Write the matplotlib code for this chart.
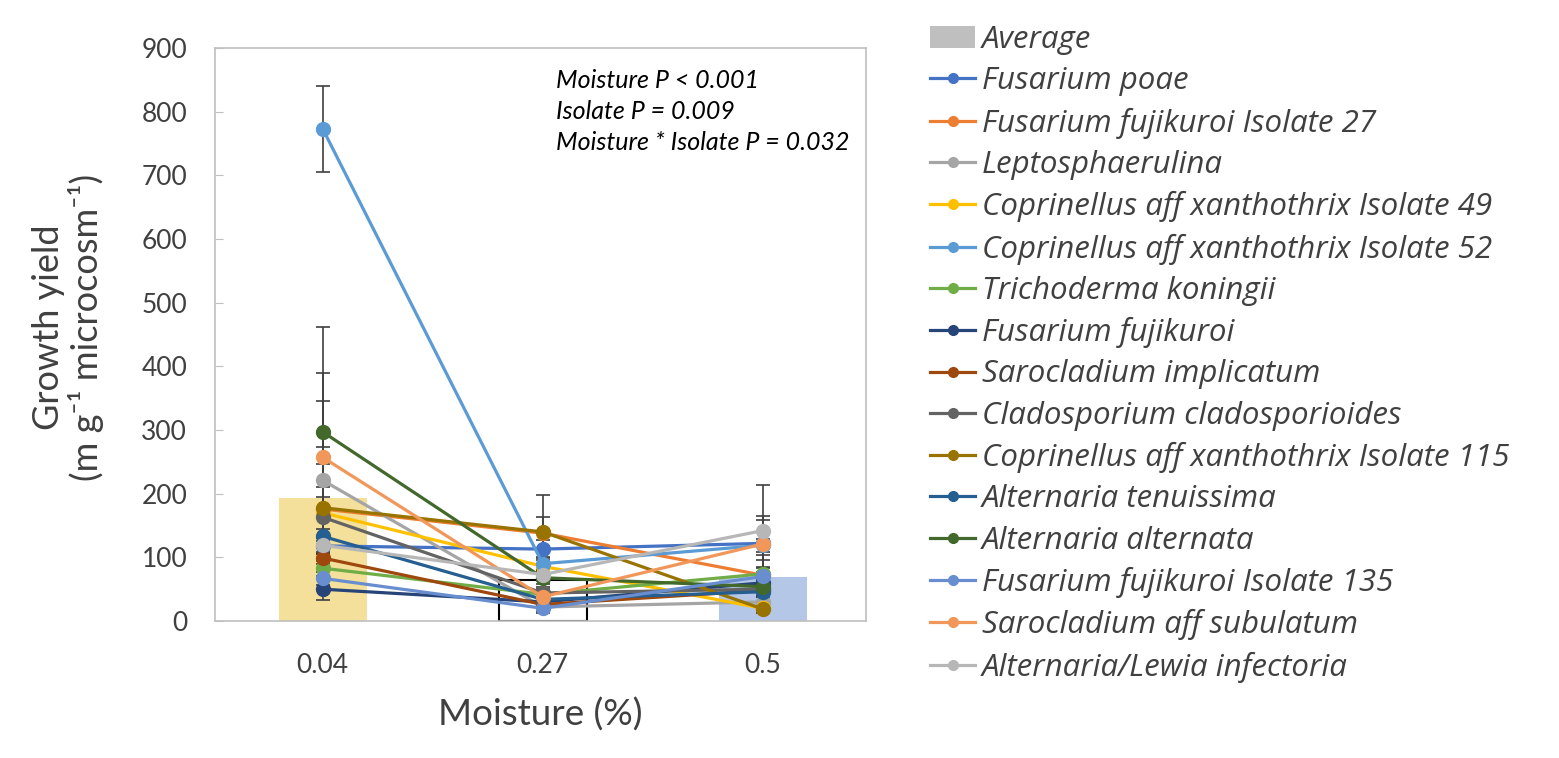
import matplotlib.pyplot as plt
from matplotlib.lines import Line2D
from matplotlib.patches import Patch

plt.rcParams['font.family'] = ['Lato', 'DejaVu Sans']

# categories and series
moisture = ['0.04', '0.27', '0.5']
isolates = ['Fusarium poae', 'Fusarium fujikuroi Isolate 27', 'Leptosphaerulina',
            'Coprinellus aff xanthothrix Isolate 49', 'Coprinellus aff xanthothrix Isolate 52',
            'Trichoderma koningii', 'Fusarium fujikuroi', 'Sarocladium implicatum',
            'Cladosporium cladosporioides', 'Coprinellus aff xanthothrix Isolate 115',
            'Alternaria tenuissima', 'Alternaria alternata', 'Fusarium fujikuroi Isolate 135',
            'Sarocladium aff subulatum', 'Alternaria/Lewia infectoria']
colors = ['#4472C4', '#ED7D31', '#A5A5A5', '#FFC000', '#5B9BD5', '#70AD47', '#264478',
          '#9E480E', '#636363', '#997300', '#255E91', '#43682B', '#698ED0', '#F1975A', '#B7B7B7']

# growth yield per isolate at each moisture level (same order as isolates)
mean_004 = [118, 176, 221, 170, 773, 83, 50, 99, 163, 178, 133, 297, 67, 257, 119]
mean_027 = [113, 138, 22, 86, 90, 42, 30, 26, 44, 140, 34, 68, 20, 38, 73]
mean_05 = [122, 72, 30, 20, 119, 74, 60, 48, 50, 19, 46, 54, 70, 121, 142]
err_004 = [12, 70, 124, 40, 68, 12, 17, 10, 32, 95, 12, 165, 10, 132, 12]
err_027 = [14, 26, 8, 10, 10, 8, 8, 8, 10, 58, 8, 10, 8, 10, 10]
err_05 = [37, 32, 8, 6, 10, 10, 10, 8, 10, 6, 8, 10, 26, 44, 72]

average = [193, 65, 69]
avg_colors = ['#F4E09A', 'white', '#B4C7E7']
avg_edges = ['none', 'black', 'none']

stats = ['Moisture P < 0.001', 'Isolate P = 0.009', 'Moisture * Isolate P = 0.032']

fig = plt.figure(figsize=(15.59, 7.58), dpi=100)
ax = fig.add_axes([0.1379, 0.1807, 0.4176, 0.7559])

x = list(range(len(moisture)))
ax.bar(x, average, width=0.4, color=avg_colors, edgecolor=avg_edges, linewidth=1.5, zorder=1)

for i, name in enumerate(isolates):
    vals = [mean_004[i], mean_027[i], mean_05[i]]
    errs = [err_004[i], err_027[i], err_05[i]]
    ax.errorbar(x, vals, yerr=errs, fmt='none', ecolor='#404040', elinewidth=1.2,
                capsize=5, capthick=1.2, zorder=2)
    ax.plot(x, vals, color=colors[i], lw=2.3, marker='o', ms=10, zorder=3 + i * 0.01)

ax.set_xlim(-0.49, 2.47)
ax.set_ylim(0, 900)
ax.set_yticks(range(0, 901, 100))
ax.set_xticks(x)
ax.set_xticklabels(moisture)
ax.tick_params(axis='x', length=0, pad=23, labelsize=19, labelcolor='#404040')
ax.tick_params(axis='y', direction='in', length=6, color='#BFBFBF', pad=20,
               labelsize=19, labelcolor='#404040')
for s in ax.spines.values():
    s.set_color('#BFBFBF')
    s.set_linewidth(1.2)

ax.set_xlabel('Moisture (%)', fontsize=26.5, color='#404040', labelpad=14)
fig.text(68 / 1559, 1 - 327 / 758, 'Growth yield\n(m g⁻¹ microcosm⁻¹)',
         rotation=90, ha='center', va='center', multialignment='center',
         fontsize=26, color='#404040', linespacing=1.1)

for k, t in enumerate(stats):
    fig.text(556 / 1559, 1 - (80 + 31.5 * k) / 758, t, style='italic', fontsize=18,
             va='center', ha='left', color='black')

handles = [Patch(facecolor='#BFBFBF', edgecolor='none')]
for c in colors:
    handles.append(Line2D([], [], color=c, lw=2.3, marker='o', ms=7))
fig.legend(handles, ['Average'] + isolates, loc='upper left',
           bbox_to_anchor=(930 / 1559, 0.967), frameon=False, borderpad=0,
           borderaxespad=0, handlelength=1.45, handletextpad=0.2, labelspacing=0.36,
           prop={'family': 'Open Sans', 'style': 'italic', 'size': 22.5},
           labelcolor='#404040')

fig.savefig('out.png', dpi=100)
